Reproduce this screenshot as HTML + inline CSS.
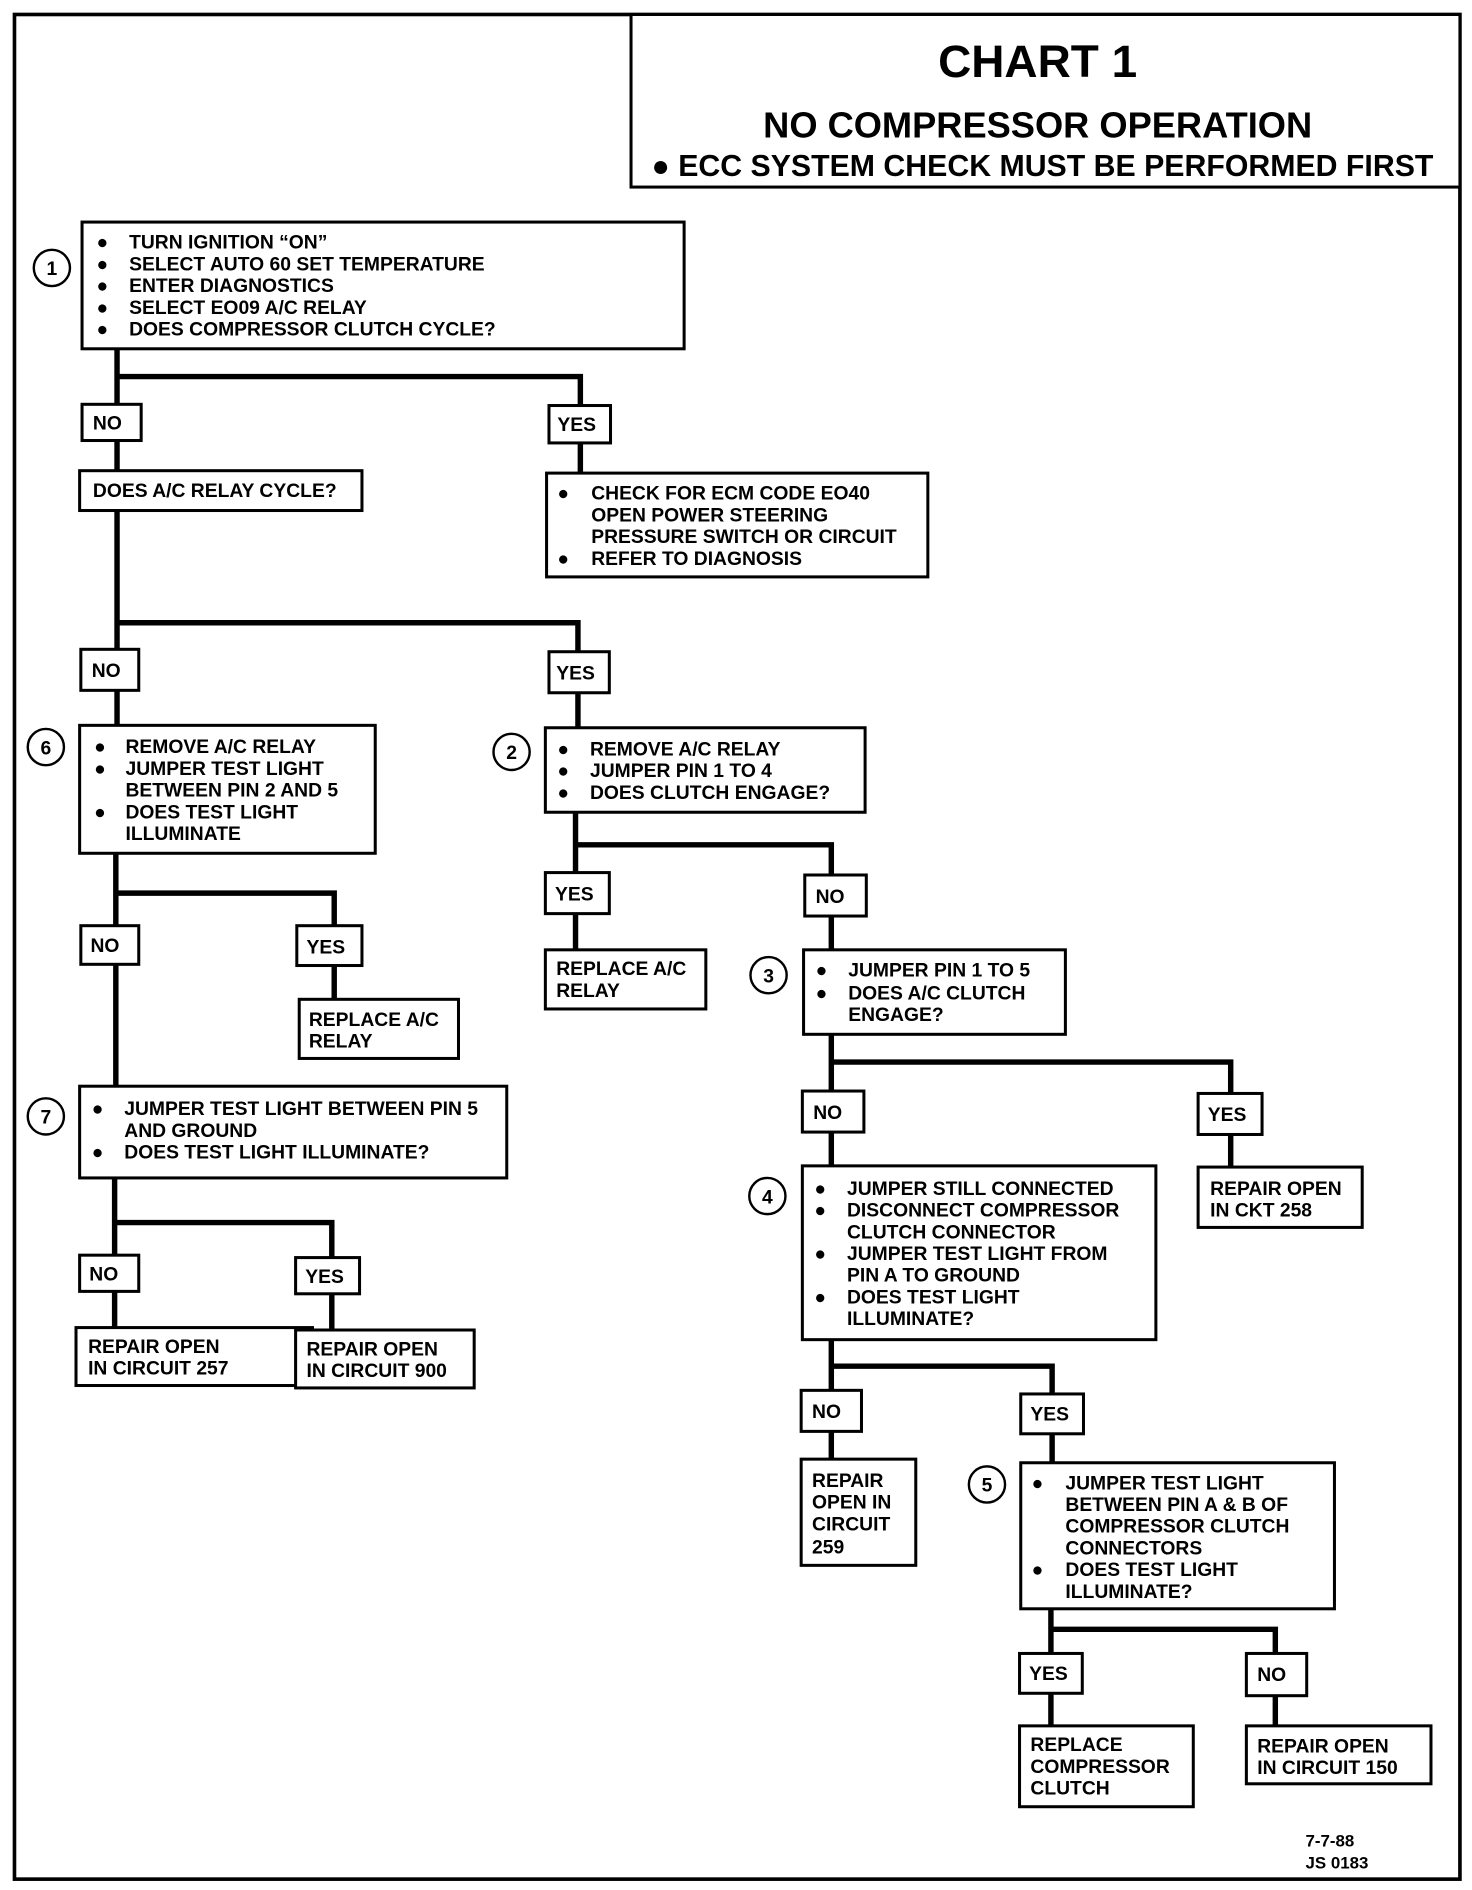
<!DOCTYPE html>
<html><head><meta charset="utf-8"><style>
html,body{margin:0;padding:0;background:#fff;}
svg{display:block;}
text{font-family:"Liberation Sans",sans-serif;font-weight:bold;font-size:16px;fill:#000;}
.b{fill:#fff;stroke:#000;stroke-width:2.5;}
.c{fill:none;stroke:#000;stroke-width:4.5;}
.ci{fill:#fff;stroke:#000;stroke-width:2;}
</style></head><body>
<svg width="1472" height="1890" viewBox="0 0 1220 1566" preserveAspectRatio="none" xmlns="http://www.w3.org/2000/svg">
<rect x="12" y="12" width="1198" height="1545" fill="none" stroke="#000" stroke-width="3"/>
<rect x="523" y="12" width="687" height="143" class="b"/>
<text x="860" y="64" text-anchor="middle" style="font-size:38px" textLength="165" lengthAdjust="spacingAndGlyphs">CHART 1</text>
<text x="860" y="114" text-anchor="middle" style="font-size:30px" textLength="455" lengthAdjust="spacingAndGlyphs">NO COMPRESSOR OPERATION</text>
<text x="864" y="146" text-anchor="middle" style="font-size:25px" textLength="648" lengthAdjust="spacingAndGlyphs">● ECC SYSTEM CHECK MUST BE PERFORMED FIRST</text>

<!-- connectors -->
<path class="c" d="M97 289V335 M97 365V390 M97 312H481V336 M481 367V392"/>
<path class="c" d="M97 423V538 M97 572V601 M97 516H479V540 M479 574V603"/>
<path class="c" d="M96 707V767 M96 799V900 M96 740H277V767 M277 800V828"/>
<path class="c" d="M95 976V1040 M95 1070V1100 M95 1013H275V1042 M275 1072V1102"/>
<path class="c" d="M477 673V723 M477 757V787 M477 700H689V725 M689 759V787"/>
<path class="c" d="M689 857V904 M689 938V966 M689 880H1020V906 M1020 940V967"/>
<path class="c" d="M689 1110V1152 M689 1186V1209 M689 1132H872V1155 M872 1188V1212"/>
<path class="c" d="M871 1333V1370 M871 1403V1430 M871 1350H1057V1370 M1057 1405V1430"/>

<!-- box 1 -->
<rect x="68" y="184" width="499" height="105" class="b"/>
<circle cx="43" cy="222" r="15" class="ci"/><text x="43" y="228" text-anchor="middle">1</text>
<g><text x="80" y="206">●</text><text x="107" y="206">TURN IGNITION “ON”</text>
<text x="80" y="224">●</text><text x="107" y="224">SELECT AUTO 60 SET TEMPERATURE</text>
<text x="80" y="242">●</text><text x="107" y="242">ENTER DIAGNOSTICS</text>
<text x="80" y="260">●</text><text x="107" y="260">SELECT EO09 A/C RELAY</text>
<text x="80" y="278">●</text><text x="107" y="278">DOES COMPRESSOR CLUTCH CYCLE?</text></g>

<rect x="68" y="335" width="49" height="30" class="b"/><text x="77" y="356">NO</text>
<rect x="455" y="336" width="51" height="31" class="b"/><text x="462" y="357">YES</text>

<rect x="66" y="390" width="234" height="33" class="b"/><text x="77" y="412">DOES A/C RELAY CYCLE?</text>
<rect x="453" y="392" width="316" height="86" class="b"/>
<text x="462" y="414">●</text><text x="490" y="414">CHECK FOR ECM CODE EO40</text>
<text x="490" y="432">OPEN POWER STEERING</text>
<text x="490" y="450">PRESSURE SWITCH OR CIRCUIT</text>
<text x="462" y="468">●</text><text x="490" y="468">REFER TO DIAGNOSIS</text>

<rect x="67" y="538" width="48" height="34" class="b"/><text x="76" y="561">NO</text>
<rect x="455" y="540" width="50" height="34" class="b"/><text x="461" y="563">YES</text>

<!-- box 6 -->
<rect x="66" y="601" width="245" height="106" class="b"/>
<circle cx="38" cy="619" r="15" class="ci"/><text x="38" y="625" text-anchor="middle">6</text>
<text x="78" y="624">●</text><text x="104" y="624">REMOVE A/C RELAY</text>
<text x="78" y="642">●</text><text x="104" y="642">JUMPER TEST LIGHT</text>
<text x="104" y="660">BETWEEN PIN 2 AND 5</text>
<text x="78" y="678">●</text><text x="104" y="678">DOES TEST LIGHT</text>
<text x="104" y="696">ILLUMINATE</text>

<!-- box 2 -->
<rect x="452" y="603" width="265" height="70" class="b"/>
<circle cx="424" cy="623" r="15" class="ci"/><text x="424" y="629" text-anchor="middle">2</text>
<text x="462" y="626">●</text><text x="489" y="626">REMOVE A/C RELAY</text>
<text x="462" y="644">●</text><text x="489" y="644">JUMPER PIN 1 TO 4</text>
<text x="462" y="662">●</text><text x="489" y="662">DOES CLUTCH ENGAGE?</text>

<rect x="67" y="767" width="48" height="32" class="b"/><text x="75" y="789">NO</text>
<rect x="246" y="767" width="54" height="33" class="b"/><text x="254" y="790">YES</text>
<rect x="248" y="828" width="132" height="49" class="b"/><text x="256" y="850">REPLACE A/C</text><text x="256" y="868">RELAY</text>

<!-- box 7 -->
<rect x="66" y="900" width="354" height="76" class="b"/>
<circle cx="38" cy="925" r="15" class="ci"/><text x="38" y="931" text-anchor="middle">7</text>
<text x="76" y="924">●</text><text x="103" y="924">JUMPER TEST LIGHT BETWEEN PIN 5</text>
<text x="103" y="942">AND GROUND</text>
<text x="76" y="960">●</text><text x="103" y="960">DOES TEST LIGHT ILLUMINATE?</text>

<rect x="66" y="1040" width="49" height="30" class="b"/><text x="74" y="1061">NO</text>
<rect x="245" y="1042" width="53" height="30" class="b"/><text x="253" y="1063">YES</text>
<rect x="63" y="1100" width="196" height="48" class="b"/><text x="73" y="1121">REPAIR OPEN</text><text x="73" y="1139">IN CIRCUIT 257</text>
<rect x="245" y="1102" width="148" height="48" class="b"/><text x="254" y="1123">REPAIR OPEN</text><text x="254" y="1141">IN CIRCUIT 900</text>

<rect x="452" y="723" width="53" height="34" class="b"/><text x="460" y="746">YES</text>
<rect x="667" y="725" width="51" height="34" class="b"/><text x="676" y="748">NO</text>
<rect x="452" y="787" width="133" height="49" class="b"/><text x="461" y="808">REPLACE A/C</text><text x="461" y="826">RELAY</text>

<!-- box 3 -->
<rect x="666" y="787" width="217" height="70" class="b"/>
<circle cx="637" cy="808" r="15" class="ci"/><text x="637" y="814" text-anchor="middle">3</text>
<text x="676" y="809">●</text><text x="703" y="809">JUMPER PIN 1 TO 5</text>
<text x="676" y="828">●</text><text x="703" y="828">DOES A/C CLUTCH</text>
<text x="703" y="846">ENGAGE?</text>

<rect x="665" y="904" width="51" height="34" class="b"/><text x="674" y="927">NO</text>
<rect x="993" y="906" width="53" height="34" class="b"/><text x="1001" y="929">YES</text>
<rect x="993" y="967" width="136" height="50" class="b"/><text x="1003" y="990">REPAIR OPEN</text><text x="1003" y="1008">IN CKT 258</text>

<!-- box 4 -->
<rect x="665" y="966" width="293" height="144" class="b"/>
<circle cx="636" cy="991" r="15" class="ci"/><text x="636" y="997" text-anchor="middle">4</text>
<text x="675" y="990">●</text><text x="702" y="990">JUMPER STILL CONNECTED</text>
<text x="675" y="1008">●</text><text x="702" y="1008">DISCONNECT COMPRESSOR</text>
<text x="702" y="1026">CLUTCH CONNECTOR</text>
<text x="675" y="1044">●</text><text x="702" y="1044">JUMPER TEST LIGHT FROM</text>
<text x="702" y="1062">PIN A TO GROUND</text>
<text x="675" y="1080">●</text><text x="702" y="1080">DOES TEST LIGHT</text>
<text x="702" y="1098">ILLUMINATE?</text>

<rect x="664" y="1152" width="50" height="34" class="b"/><text x="673" y="1175">NO</text>
<rect x="846" y="1155" width="52" height="33" class="b"/><text x="854" y="1177">YES</text>
<rect x="664" y="1209" width="95" height="88" class="b"/>
<text x="673" y="1232">REPAIR</text><text x="673" y="1250">OPEN IN</text><text x="673" y="1268">CIRCUIT</text><text x="673" y="1287">259</text>

<!-- box 5 -->
<rect x="846" y="1212" width="260" height="121" class="b"/>
<circle cx="818" cy="1230" r="15" class="ci"/><text x="818" y="1236" text-anchor="middle">5</text>
<text x="855" y="1234">●</text><text x="883" y="1234">JUMPER TEST LIGHT</text>
<text x="883" y="1252">BETWEEN PIN A &amp; B OF</text>
<text x="883" y="1270">COMPRESSOR CLUTCH</text>
<text x="883" y="1288">CONNECTORS</text>
<text x="855" y="1306">●</text><text x="883" y="1306">DOES TEST LIGHT</text>
<text x="883" y="1324">ILLUMINATE?</text>

<rect x="845" y="1370" width="52" height="33" class="b"/><text x="853" y="1392">YES</text>
<rect x="1033" y="1370" width="50" height="35" class="b"/><text x="1042" y="1393">NO</text>
<rect x="845" y="1430" width="144" height="67" class="b"/>
<text x="854" y="1451">REPLACE</text><text x="854" y="1469">COMPRESSOR</text><text x="854" y="1487">CLUTCH</text>
<rect x="1033" y="1430" width="153" height="48" class="b"/><text x="1042" y="1452">REPAIR OPEN</text><text x="1042" y="1470">IN CIRCUIT 150</text>

<text x="1082" y="1530" style="font-size:14px">7-7-88</text>
<text x="1082" y="1548" style="font-size:14px">JS 0183</text>
</svg>
</body></html>
